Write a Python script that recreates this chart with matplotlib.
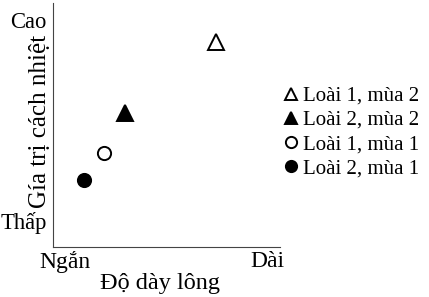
import matplotlib
matplotlib.use('Agg')
import matplotlib.pyplot as plt

plt.rcParams['font.family'] = ['Liberation Serif', 'DejaVu Serif']

# data (relative scale 0..1 on both axes)
labels = ['Loài 1, mùa 2', 'Loài 2, mùa 2', 'Loài 1, mùa 1', 'Loài 2, mùa 1']
x_vals = [0.718, 0.317, 0.224, 0.135]
y_vals = [0.840, 0.550, 0.387, 0.275]
markers = ['^', '^', 'o', 'o']
filled = [False, True, False, True]

x_ticks = [0.053, 0.945]
x_ticklabels = ['Ngắn', 'Dài']
y_ticks = [0.110, 0.930]
y_ticklabels = ['Thấp', 'Cao']

fig = plt.figure(figsize=(4.29, 2.97), dpi=100)
ax = fig.add_axes([53/429, 50/297, 227/429, 244/297])

for x, y, m, f, lab in zip(x_vals, y_vals, markers, filled, labels):
    ax.plot(x, y, linestyle='none', marker=m, markersize=11 if m == '^' else 9.5,
            markerfacecolor='black' if f else 'white', markeredgecolor='black',
            markeredgewidth=1.4, label=lab)

ax.set_xlim(0, 1)
ax.set_ylim(0, 1)
ax.spines['top'].set_visible(False)
ax.spines['right'].set_visible(False)
ax.spines['left'].set_color('#444444')
ax.spines['bottom'].set_color('#444444')

ax.set_xticks(x_ticks)
ax.set_xticklabels(x_ticklabels, fontsize=17)
ax.set_yticks(y_ticks)
ax.set_yticklabels(y_ticklabels, fontsize=16.3)
ax.tick_params(axis='y', length=0, pad=4.5)
ax.tick_params(axis='x', length=0, pad=3)

ax.set_xlabel('Độ dày lông', fontsize=17.5)
ax.xaxis.set_label_coords(0.471, -0.105)
ax.set_ylabel('Gía trị cách nhiệt', fontsize=18)
ax.yaxis.set_label_coords(-0.01, 0.516)

ax.legend(loc='center left', bbox_to_anchor=(0.975, 0.47), frameon=False,
          fontsize=15, handlelength=0.6, handletextpad=0.3, labelspacing=0.22,
          borderpad=0, markerscale=0.85)

fig.savefig('out.png', dpi=100)
